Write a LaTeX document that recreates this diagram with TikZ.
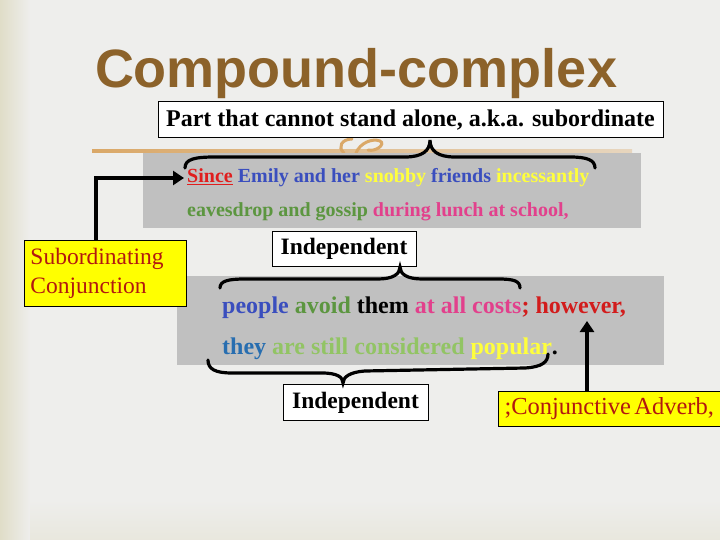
\documentclass[tikz,border=0pt]{standalone}
\usepackage{fontspec}
\setmainfont{Liberation Serif}
\newfontfamily\titlefont{Liberation Sans}
\usetikzlibrary{arrows.meta}
\definecolor{bgc}{RGB}{238,238,236}
\definecolor{beige}{RGB}{224,221,200}
\definecolor{titlec}{RGB}{140,98,42}
\definecolor{tanc}{RGB}{218,168,104}
\definecolor{grayc}{RGB}{192,192,192}
\definecolor{yel}{RGB}{255,255,0}
\definecolor{redbr}{RGB}{178,24,16}
\definecolor{cred}{RGB}{224,30,30}
\definecolor{cblue}{RGB}{58,78,190}
\definecolor{cyel}{RGB}{255,255,60}
\definecolor{cgreen}{RGB}{92,150,64}
\definecolor{cpink}{RGB}{226,64,140}
\definecolor{csteel}{RGB}{40,110,176}
\definecolor{clgreen}{RGB}{146,196,100}
\definecolor{chred}{RGB}{210,28,28}
\begin{document}
\begin{tikzpicture}[x=1pt,y=-1pt,
  whitebox/.style={draw=black,line width=1pt,fill=white,inner sep=0pt},
  yelbox/.style={draw=black,line width=1pt,fill=yel,inner sep=0pt,text=redbr},
  graybox/.style={fill=grayc},
  bracepath/.style={draw=black,line width=3.2pt,line cap=round},
  arr/.style={draw=black,line width=3.5pt,-{Triangle[length=11pt,width=14pt]}},
  linetext/.style={anchor=base west,inner sep=0pt,font=\bfseries}]
\useasboundingbox (0,0) rectangle (720,540);
% background
\fill[bgc] (0,0) rectangle (720,540);
\shade[left color=beige,right color=bgc] (0,0) rectangle (30,540);
\shade[top color=bgc,bottom color=beige!40!bgc] (30,500) rectangle (720,540);
% title
\node[anchor=base,text=titlec,inner sep=0pt] (title) at (356,88) {\titlefont\bfseries\fontsize{54}{58}\selectfont Compound-complex};
% orange rule and ornament
\shade[left color=tanc,right color=tanc!35!bgc] (92,150) rectangle (632,152.5);
\draw[tanc,line width=3pt,line cap=round] (344,153) .. controls (337,147) and (342,139) .. (352,139);
\draw[tanc,line width=3pt,line cap=round] (356,153) .. controls (360,143) and (372,138) .. (380,141)
  .. controls (386,144) and (376,152) .. (368,150);
% gray boxes
\fill[graybox] (143,153) rectangle (641,228);
\fill[graybox] (177,276) rectangle (664,365);
% boxes
\node[whitebox,minimum width=505pt,minimum height=36pt] (part) at (410.5,120)
  {\fontsize{24}{28}\selectfont\bfseries Part that cannot stand alone, a.k.a. subordinate};
\node[yelbox,anchor=north west,minimum width=161pt,minimum height=66pt,text width=150pt,align=left,inner xsep=6pt,
  font=\fontsize{23.5}{29}\selectfont] (sub) at (24,240)
  {Subordinating\\Conjunction};
\node[whitebox,minimum width=144pt,minimum height=35pt] (ind1) at (344,249)
  {\fontsize{23.5}{26}\selectfont\bfseries Independent};
\node[whitebox,minimum width=145pt,minimum height=36pt] (ind2) at (355.5,402.5)
  {\fontsize{23.5}{26}\selectfont\bfseries Independent};
\node[yelbox,anchor=north west,minimum width=228pt,minimum height=35pt,text width=220pt,align=left,inner xsep=6pt] (conj) at (498,391)
  {\fontsize{24.5}{28}\selectfont ;Conjunctive Adverb,};
% sentence text
\node[linetext] (l1) at (187,183) {\fontsize{20}{22}\selectfont
  \textcolor{cred}{\underline{Since}} \textcolor{cblue}{Emily and her} \textcolor{cyel}{snobby} \textcolor{cblue}{friends} \textcolor{cyel}{incessantly}};
\node[linetext] (l2) at (187,217) {\fontsize{20}{22}\selectfont
  \textcolor{cgreen}{eavesdrop and gossip} \textcolor{cpink}{during lunch at school,}};
\node[linetext] (l3) at (222,313) {\fontsize{24}{26}\selectfont
  \textcolor{cblue}{people} \textcolor{cgreen}{avoid} them \textcolor{cpink}{at all costs}\textcolor{chred}{; however,}};
\node[linetext] (l4) at (222,354) {\fontsize{24}{26}\selectfont
  \textcolor{csteel}{they} \textcolor{clgreen}{are still considered} \textcolor{cyel}{popular}.};
% braces
\coordinate (tbL) at (185,168); \coordinate (tbT) at (430,140); \coordinate (tbR) at (595,168);
\draw[bracepath] (tbL) .. controls (185,159) and (195,157) .. (215,157) -- (405,157)
  .. controls (422,157) and (430,151) .. (tbT) .. controls (430,151) and (438,157) .. (455,157)
  -- (570,157) .. controls (587,157) and (595,160) .. (tbR);
\coordinate (ibL) at (220,288); \coordinate (ibT) at (400,267); \coordinate (ibR) at (520,288);
\draw[bracepath] (ibL) .. controls (220,281) and (228,279) .. (245,279) -- (378,279)
  .. controls (393,279) and (400,274) .. (ibT) .. controls (400,274) and (407,279) .. (422,279)
  -- (498,279) .. controls (514,279) and (520,281) .. (ibR);
\coordinate (lbL) at (208,360); \coordinate (lbT) at (343,383); \coordinate (lbR) at (548,354);
\draw[bracepath] (lbL) .. controls (208,369) and (215,373) .. (232,373) -- (322,373)
  .. controls (337,373) and (343,377) .. (lbT) .. controls (343,377) and (350,372) .. (365,371)
  -- (525,368) .. controls (542,367) and (548,362) .. (lbR);
% arrows
\coordinate (sx) at (96,0);
\coordinate (sinceW) at (184,178);
\draw[arr] (sub.north -| sx) |- (sinceW);
\coordinate (hx) at (587,0);
\coordinate (howS) at (587,321);
\draw[arr] (conj.north -| hx) -- (howS);
\end{tikzpicture}
\end{document}
